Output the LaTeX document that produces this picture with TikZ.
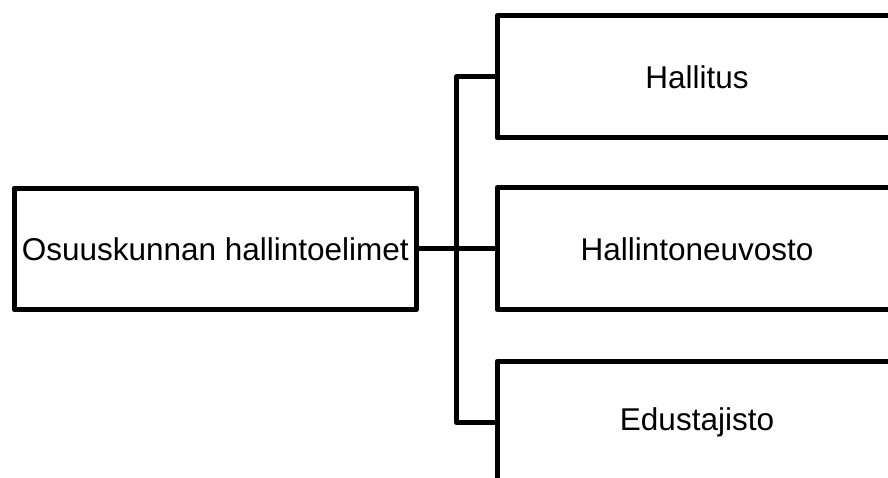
\documentclass[tikz,border=0pt]{standalone}
\usepackage{fontspec}
\setmainfont{Liberation Sans}
\begin{document}
\begin{tikzpicture}[x=1pt,y=-1pt,
  line width=5pt, line join=round,
  orgbox/.style={draw=black, fill=white, rectangle, inner sep=0pt,
    font=\fontsize{31.5}{38}\selectfont},
  rootbox/.style={orgbox, minimum width=402.5pt, minimum height=121.5pt},
  unitbox/.style={orgbox, minimum width=400pt, minimum height=122pt},
  link/.style={draw=black, line width=5pt}]
\useasboundingbox (0,0) rectangle (888,477);
\clip (0,0) rectangle (888,477);
\fill[white] (0,0) rectangle (888,477);

% governing bodies of the cooperative
\node[rootbox] (L) at (215.25,248.75) {Osuuskunnan hallintoelimet};
\node[unitbox] (R1) at (697,76.75) {Hallitus};
\node[unitbox] (R2) at (697,248.75) {Hallintoneuvosto};
\node[unitbox] (R3) at (697,422.5) {Edustajisto};

% branching connector
\coordinate (j) at (456.5,248.75);
\draw[link] (L.east) -- (R2.west);
\draw[link] (R1.west) -- (R1.west -| j) -- (R3.west -| j) -- (R3.west);
\end{tikzpicture}
\end{document}
